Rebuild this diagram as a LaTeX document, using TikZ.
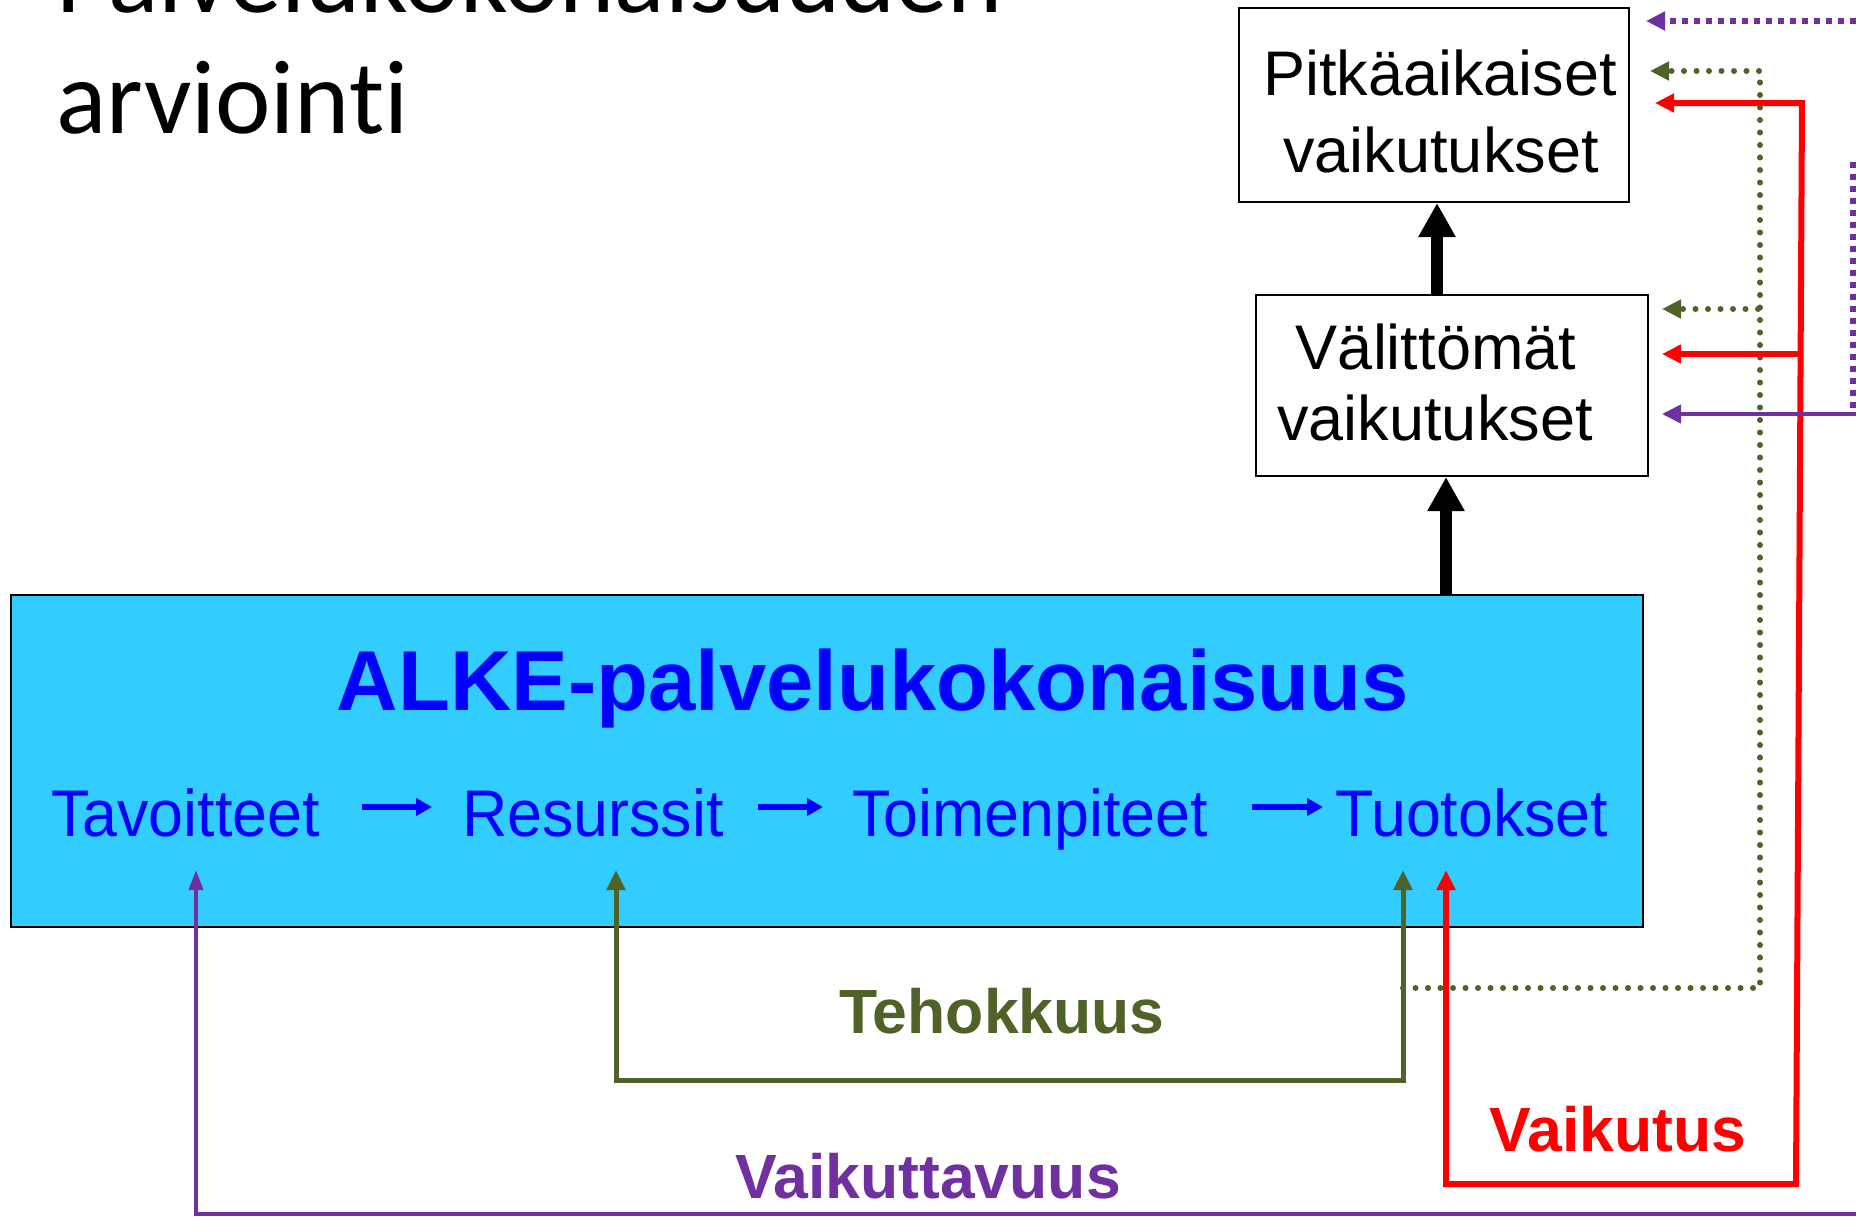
\documentclass[tikz,border=0pt]{standalone}
\usepackage{fontspec}
\setmainfont{Liberation Sans}
\newfontfamily\titlefont[Ligatures={NoCommon}]{Carlito}
\newfontfamily\rowfont[FakeStretch=0.95]{Liberation Sans}
\usetikzlibrary{arrows.meta}
\definecolor{boxcyan}{HTML}{33CCFF}
\definecolor{txtblue}{HTML}{0000FF}
\definecolor{olive}{HTML}{4F6228}
\definecolor{redc}{HTML}{FF0000}
\definecolor{purp}{HTML}{7030A0}
\tikzset{
  txt/.style={inner sep=0pt, anchor=base},
  boxtxt/.style={txt, font=\fontsize{63pt}{72pt}\selectfont},
  rowtxt/.style={inner sep=0pt, anchor=base west, text=txtblue, font=\rowfont\fontsize{66pt}{72pt}\selectfont},
  lbl/.style={txt, font=\bfseries\fontsize{62.5pt}{70pt}\selectfont},
  whitebox/.style={draw=black, line width=2pt, fill=white, inner sep=0pt},
  blk/.style={line width=12pt, -{Triangle[width=35pt,length=34pt]}},
  blarrow/.style={txtblue, line width=5.5pt, -{Triangle[width=17pt,length=16pt]}},
  gline/.style={olive, line width=5pt},
  gdot/.style={olive, line width=6pt, line cap=round, dash pattern=on 0pt off 12.5pt},
  rline/.style={redc, line width=6pt},
  pline/.style={purp, line width=4pt},
  pdot/.style={purp, line width=6pt, dash pattern=on 6pt off 6pt},
}
\begin{document}
\begin{tikzpicture}[x=1pt,y=-1pt]
\useasboundingbox (0,0) rectangle (1856,1216);

% title (cut off at the top, as in the reference)
\node[inner sep=0pt, anchor=base west, font=\titlefont\fontsize{105pt}{120pt}\selectfont] (t1) at (56,12) {Palvelukokonaisuuden};
\node[inner sep=0pt, anchor=base west, font=\titlefont\fontsize{105pt}{120pt}\selectfont] (t2) at (56,133) {arvioint\kern0pt i};

% boxes
\node[whitebox, minimum width=390pt, minimum height=194pt] (pitk) at (1434,105) {};
\node[boxtxt] (pitk1) at (1440,95) {Pitkäaikaiset};
\node[boxtxt] (pitk2) at (1441,172) {vaikutukset};

\node[whitebox, minimum width=392pt, minimum height=181pt] (valit) at (1452,385.5) {};
\node[boxtxt] (valit1) at (1436,369) {Välittömät};
\node[boxtxt] (valit2) at (1435,440) {vaikutukset};

\node[draw=black, line width=1.5pt, fill=boxcyan, inner sep=0pt, minimum width=1632pt, minimum height=332pt] (alke) at (827,761) {};
\node[txt, text=txtblue, font=\bfseries\fontsize{85pt}{90pt}\selectfont] (alketitle) at (873,710) {ALKE-palvelukokonaisuus};

\node[rowtxt] (tav) at (51,836) {Tavoitteet};
\node[rowtxt] (res) at (462,836) {Resurssit};
\node[rowtxt] (toim) at (852,836) {Toimenpiteet};
\node[rowtxt] (tuot) at (1335,836) {Tuotokset};

\draw[blarrow] ([xshift=42pt,yshift=29pt]tav.base east) -- ([xshift=-30pt,yshift=29pt]res.base west);
\draw[blarrow] ([xshift=34pt,yshift=29pt]res.base east) -- ([xshift=-29pt,yshift=29pt]toim.base west);
\draw[blarrow] ([xshift=44pt,yshift=29pt]toim.base east) -- ([xshift=-12pt,yshift=29pt]tuot.base west);

% black arrows
\coordinate (ax1) at (1437,0);
\coordinate (ax2) at (1446,0);
\draw[blk] (ax1 |- valit.north) -- (ax1 |- pitk.south);
\draw[blk] (ax2 |- alke.north) -- (ax2 |- valit.south);

% tips in the box
\coordinate (ptav) at (196,870);
\coordinate (gres) at (616,870);
\coordinate (gtuot) at (1403,870);
\coordinate (rtuot) at (1446,870);

% green (Tehokkuus)
\draw[gline, {Triangle[width=18pt,length=20pt]}-{Triangle[width=18pt,length=20pt]}] (gres) -- ++(0,210) -| (gtuot);
\coordinate (gsplit) at (1403,988);
\coordinate (gtop) at (1760,71);
\draw[gdot, -{Triangle[width=18pt,length=19pt]}] (gsplit) -| (gtop) -- ([xshift=20pt]pitk.east |- gtop);
\coordinate (gmid) at (1758,309);
\draw[gdot, -{Triangle[width=18pt,length=19pt]}] (gmid) -- ([xshift=13pt]valit.east |- gmid);

% red (Vaikutus)
\coordinate (rtop) at (1802,103);
\coordinate (rbot) at (1796,1184);
\draw[rline, {Triangle[width=18pt,length=19pt]}-{Triangle[width=18pt,length=20pt]}] ([xshift=25pt]pitk.east |- rtop) -- (rtop) -- (rbot) -| (rtuot);
\coordinate (rmid) at (1799,354);
\draw[rline, -{Triangle[width=18pt,length=19pt]}] (rmid) -- ([xshift=13pt]valit.east |- rmid);

% purple (Vaikuttavuus)
\coordinate (pright) at (1880,1214);
\coordinate (pmid) at (1880,414);
\draw[pline, {Triangle[width=14pt,length=20pt]}-{Triangle[width=18pt,length=19pt]}] (ptav) -- (ptav |- pright) -- (pright) -- (pmid) -- ([xshift=13pt]valit.east |- pmid);
\coordinate (pd1) at (1853,408);
\coordinate (pd2) at (1853,160);
\draw[pdot] (pd1) -- (pd2);
\coordinate (ptop) at (1880,21);
\draw[pdot, -{Triangle[width=18pt,length=19pt]}] (ptop) -- ([xshift=16pt]pitk.east |- ptop);

% labels
\node[lbl, text=olive] (teho) at (1002,1033) {Tehokkuus};
\node[lbl, text=redc] (vaik) at (1618,1151) {Vaikutus};
\node[lbl, text=purp] (vaikt) at (928,1198) {Vaikuttavuus};
\end{tikzpicture}
\end{document}
